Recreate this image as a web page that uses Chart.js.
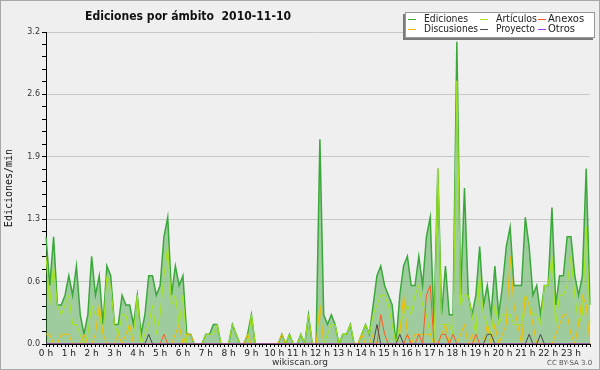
<!DOCTYPE html>
<html>
<head>
<meta charset="utf-8">
<script src="https://cdn.jsdelivr.net/npm/chart.js@4.4.1/dist/chart.umd.min.js"></script>
<style>
  html, body { margin: 0; padding: 0; background: #efefef; }
  #wrap { width: 600px; height: 370px; }
</style>
</head>
<body>
<div id="wrap"><canvas id="chart" width="600" height="370"></canvas></div>
<script>
const chartTitle = 'Ediciones por ámbito  2010-11-10';
const hourLabels = ['0 h', '1 h', '2 h', '3 h', '4 h', '5 h', '6 h', '7 h', '8 h', '9 h', '10 h', '11 h',
                    '12 h', '13 h', '14 h', '15 h', '16 h', '17 h', '18 h', '19 h', '20 h', '21 h', '22 h', '23 h'];
const seriesNames = ['Ediciones', 'Artículos', 'Anexos', 'Discusiones', 'Proyecto', 'Otros'];
const yTickLabels = ['0.0', '0.6', '1.3', '1.9', '2.6', '3.2'];

// one value every 10 minutes, six per hour (edits/min)
const ediciones = [
  1.1, 0.6, 1.1, 0.4, 0.4, 0.5,   0.7, 0.5, 0.8, 0.3, 0.1, 0.3,
  0.9, 0.5, 0.7, 0.2, 0.8, 0.7,   0.2, 0.2, 0.5, 0.4, 0.4, 0.2,
  0.5, 0.1, 0.3, 0.7, 0.7, 0.5,   0.6, 1.1, 1.3, 0.5, 0.8, 0.6,
  0.7, 0.1, 0.1, 0, 0, 0,         0.1, 0.1, 0.2, 0.2, 0, 0,
  0, 0.2, 0.1, 0, 0, 0.1,         0.3, 0, 0, 0, 0, 0,
  0, 0, 0.1, 0, 0.1, 0,           0, 0.1, 0, 0.3, 0, 0,
  2.1, 0.3, 0.2, 0.3, 0.2, 0,     0.1, 0.1, 0.2, 0, 0, 0.1,
  0.2, 0.1, 0.4, 0.7, 0.8, 0.6,   0.5, 0.4, 0, 0.5, 0.8, 0.9,
  0.6, 0.6, 0.9, 0.6, 1.1, 1.3,   0.2, 1.8, 0.3, 0.8, 0.3, 0.3,
  3.1, 0.5, 1.6, 0.5, 0.3, 0.5,   1.0, 0.4, 0.6, 0.3, 0.8, 0.3,
  0.6, 1.0, 1.2, 0.6, 0.6, 0.6,   1.3, 1.0, 0.5, 0.6, 0.3, 0.6,
  0.6, 1.4, 0.4, 0.7, 0.7, 1.1,   1.1, 0.7, 0.5, 0.7, 1.8, 0.4
];
const articulos = [
  0.9, 0.4, 0.8, 0.4, 0.3, 0.4,   0.5, 0.2, 0.2, 0.1, 0, 0.1,
  0.4, 0.3, 0.3, 0.1, 0.7, 0.6,   0.2, 0.1, 0.3, 0.3, 0.1, 0.1,
  0.5, 0, 0.1, 0.2, 0.4, 0.1,     0.3, 0.7, 1.0, 0.4, 0.5, 0.2,
  0.5, 0, 0, 0, 0, 0,             0.1, 0.1, 0.1, 0.2, 0, 0,
  0, 0.2, 0.1, 0, 0, 0,           0.3, 0, 0, 0, 0, 0,
  0, 0, 0, 0, 0.1, 0,             0, 0.1, 0, 0.3, 0, 0,
  0, 0, 0.1, 0.2, 0.2, 0,         0.1, 0.1, 0.2, 0, 0, 0.1,
  0.2, 0.1, 0.3, 0.4, 0.5, 0.5,   0.4, 0.2, 0, 0.2, 0.3, 0.4,
  0.3, 0.5, 0.6, 0.4, 0.3, 0.1,   0, 1.8, 0.2, 0.2, 0.2, 0.1,
  2.7, 0.4, 0.5, 0.5, 0.3, 0.1,   0.7, 0.3, 0.2, 0.1, 0.4, 0.2,
  0.3, 0.3, 0.3, 0.2, 0.2, 0.2,   0.5, 0.4, 0.3, 0.3, 0.2, 0.6,
  0.6, 0.9, 0.2, 0.5, 0.5, 0.6,   0.9, 0.5, 0.2, 0.3, 1.2, 0.2
];
const anexos = [
  0, 0, 0, 0, 0, 0,               0, 0, 0, 0, 0, 0,
  0, 0, 0, 0, 0, 0,               0, 0, 0, 0, 0, 0,
  0, 0, 0, 0, 0, 0,               0, 0.1, 0, 0, 0, 0,
  0, 0, 0, 0, 0, 0,               0, 0, 0, 0, 0, 0,
  0, 0, 0, 0, 0, 0,               0, 0, 0, 0, 0, 0,
  0, 0, 0, 0, 0, 0,               0, 0, 0, 0, 0, 0,
  0, 0, 0, 0, 0, 0,               0, 0, 0, 0, 0, 0,
  0, 0, 0, 0, 0.3, 0.1,           0, 0, 0, 0, 0, 0.1,
  0, 0, 0.1, 0, 0.5, 0.6,         0, 0, 0.1, 0.1, 0, 0.1,
  0, 0, 0, 0, 0, 0.1,             0, 0, 0, 0, 0, 0,
  0, 0, 0, 0, 0, 0,               0, 0, 0, 0, 0, 0,
  0, 0, 0, 0, 0, 0,               0, 0, 0, 0, 0, 0
];
const discusiones = [
  0.1, 0.1, 0, 0, 0.1, 0.1,       0.1, 0, 0, 0, 0.1, 0,
  0, 0.1, 0.4, 0.1, 0, 0,         0, 0.1, 0, 0.1, 0.2, 0,
  0, 0, 0, 0, 0, 0,               0, 0, 0, 0, 0.1, 0.2,
  0, 0.1, 0.1, 0, 0, 0,           0, 0, 0, 0, 0, 0,
  0, 0, 0, 0, 0, 0.1,             0, 0, 0, 0, 0, 0,
  0, 0, 0.1, 0, 0, 0,             0, 0, 0, 0, 0, 0,
  0.4, 0, 0, 0, 0, 0,             0, 0, 0, 0, 0, 0.1,
  0, 0, 0.1, 0, 0, 0,             0, 0, 0, 0.1, 0.5, 0.1,
  0, 0.1, 0.1, 0.1, 0.1, 0.1,     0, 0, 0.1, 0.2, 0, 0,
  0, 0.1, 0.2, 0, 0.1, 0,         0, 0, 0.2, 0, 0.2, 0,
  0.1, 0.2, 0.9, 0.4, 0.2, 0,     0.5, 0.4, 0.2, 0, 0, 0,
  0, 0, 0.1, 0.2, 0.3, 0.3,       0.1, 0, 0.2, 0.5, 0.4, 0
];
const proyecto = [
  0, 0, 0, 0, 0, 0,               0, 0, 0, 0, 0, 0,
  0, 0, 0, 0, 0, 0,               0, 0, 0, 0, 0, 0,
  0, 0, 0, 0.1, 0, 0,             0, 0, 0, 0, 0, 0,
  0, 0, 0, 0, 0, 0,               0, 0, 0, 0, 0, 0,
  0, 0, 0, 0, 0, 0,               0, 0, 0, 0, 0, 0,
  0, 0, 0, 0, 0, 0,               0, 0, 0, 0, 0, 0,
  0, 0, 0, 0, 0, 0,               0, 0, 0, 0, 0, 0,
  0, 0, 0, 0.2, 0, 0,             0, 0, 0, 0.1, 0, 0,
  0, 0, 0, 0, 0, 0,               0, 0, 0, 0, 0, 0,
  0, 0, 0, 0, 0, 0,               0, 0, 0.1, 0.1, 0, 0,
  0, 0, 0, 0, 0, 0,               0, 0.1, 0, 0, 0.1, 0,
  0, 0, 0, 0, 0, 0,               0, 0, 0, 0, 0, 0
];
const otros = [
  0, 0, 0, 0, 0, 0,   0, 0, 0, 0, 0, 0,   0, 0, 0, 0, 0, 0,   0, 0, 0, 0, 0, 0,
  0, 0, 0, 0, 0, 0,   0, 0, 0, 0, 0, 0,   0, 0, 0, 0, 0, 0,   0, 0, 0, 0, 0, 0,
  0, 0, 0, 0, 0, 0,   0, 0, 0, 0, 0, 0,   0, 0, 0, 0, 0, 0,   0, 0, 0, 0, 0, 0,
  0, 0, 0, 0, 0, 0,   0, 0, 0, 0, 0, 0,   0, 0, 0, 0, 0, 0,   0, 0, 0, 0, 0, 0,
  0, 0, 0, 0, 0, 0,   0, 0, 0, 0, 0, 0,   0, 0, 0, 0, 0, 0,   0, 0, 0, 0, 0, 0,
  0, 0, 0, 0, 0, 0,   0, 0, 0, 0, 0, 0,   0, 0, 0, 0, 0, 0,   0, 0, 0, 0, 0, 0
];

const colors = {
  ediciones: '#3aa83a',
  articulos: '#a6e619',
  anexos: '#ff5a1e',
  discusiones: '#f2bf00',
  proyecto: '#4a4a4a',
  otros: '#9a3cf0'
};

// 10-minute slots, label only on the hour
const slotLabels = [];
hourLabels.forEach(h => slotLabels.push(h, '', '', '', '', ''));

function line(label, data, color, order, width) {
  return {
    label: label,
    data: data,
    borderColor: color,
    backgroundColor: color,
    borderWidth: width || 1,
    pointRadius: 0,
    tension: 0,
    fill: false,
    order: order
  };
}

const edicionesSet = line(seriesNames[0], ediciones, colors.ediciones, 10, 1.5);
edicionesSet.fill = 'origin';
edicionesSet.backgroundColor = 'rgba(63, 161, 63, 0.45)';

const datasets = [
  edicionesSet,
  line(seriesNames[1], articulos, colors.articulos, 5),
  line(seriesNames[2], anexos, colors.anexos, 3),
  line(seriesNames[3], discusiones, colors.discusiones, 4),
  line(seriesNames[4], proyecto, colors.proyecto, 2),
  line(seriesNames[5], otros, colors.otros, 1)
];

const decor = {
  id: 'decor',
  beforeDraw(chart) {
    const c = chart.ctx;
    c.save();
    c.fillStyle = '#efefef';
    c.fillRect(0, 0, chart.width, chart.height);
    c.strokeStyle = '#a8a8a8';
    c.lineWidth = 1;
    c.strokeRect(0.5, 0.5, chart.width - 1, chart.height - 1);
    c.restore();
  },
  afterDraw(chart) {
    const c = chart.ctx;
    c.save();
    // title
    c.fillStyle = '#111';
    c.font = 'bold 12px "DejaVu Sans"';
    c.textBaseline = 'alphabetic';
    c.textAlign = 'left';
    c.fillText(chartTitle, 85, 20, 206);

    // legend box with shadow
    c.fillStyle = '#7a7a7a';
    c.fillRect(403, 14, 190, 26);
    c.fillStyle = '#ffffff';
    c.fillRect(405, 12, 190, 26);
    c.strokeStyle = '#9a9a9a';
    c.strokeRect(405.5, 12.5, 189, 25);

    const lineX = [408, 480, 538];
    const textX = [424, 496, 548];
    const rowY = [19.5, 29.5];
    const maxW = [[44, 41, 40], [54, 39, 27]];
    c.font = '10px "DejaVu Sans"';
    c.textBaseline = 'middle';
    chart.data.datasets.forEach((ds, i) => {
      const col = i % 3, row = Math.floor(i / 3);
      c.strokeStyle = ds.borderColor;
      c.lineWidth = 1;
      c.beginPath();
      c.moveTo(lineX[col], rowY[row]);
      c.lineTo(lineX[col] + 8, rowY[row]);
      c.stroke();
      c.fillStyle = '#222';
      c.fillText(ds.label, textX[col], rowY[row] - 0.5, maxW[row][col]);
    });

    // footer
    c.textBaseline = 'alphabetic';
    c.fillStyle = '#333';
    c.font = '9px "DejaVu Sans"';
    c.textAlign = 'center';
    c.fillText('wikiscan.org', 300, 365);
    c.font = '7px "DejaVu Sans"';
    c.fillStyle = '#555';
    c.textAlign = 'left';
    c.fillText('CC BY-SA 3.0', 547, 365);
    c.restore();
  }
};

new Chart(document.getElementById('chart').getContext('2d'), {
  type: 'line',
  data: {
    labels: slotLabels,
    datasets: datasets
  },
  options: {
    responsive: false,
    devicePixelRatio: 1,
    animation: false,
    layout: { padding: { top: 32, right: 10, left: 0, bottom: 0 } },
    plugins: {
      legend: { display: false },
      title: { display: false },
      tooltip: { enabled: false }
    },
    scales: {
      x: {
        z: 1,
        afterFit: function(scale) { scale.height = 26; },
        grid: { display: true, drawOnChartArea: false, drawTicks: true, tickLength: 3, tickColor: '#000' },
        border: { color: '#000', width: 1 },
        ticks: {
          autoSkip: false,
          maxRotation: 0,
          minRotation: 0,
          padding: 1,
          color: '#222',
          font: { family: 'DejaVu Sans', size: 9 }
        }
      },
      y: {
        min: 0,
        max: 3.2,
        afterFit: function(scale) { scale.width = 46; },
        border: { color: '#000', width: 1 },
        grid: {
          tickLength: 4,
          tickColor: '#000',
          color: function(ctx) {
            return (ctx.index % 5 === 0 && ctx.index > 0) ? '#c8c8c8' : 'rgba(0,0,0,0)';
          }
        },
        ticks: {
          count: 26,
          autoSkip: false,
          padding: 2,
          color: '#333',
          font: { family: 'DejaVu Sans', size: 8 },
          callback: function(value, index) {
            return index % 5 === 0 ? yTickLabels[index / 5] : '';
          }
        },
        title: {
          display: true,
          text: 'Ediciones/min',
          color: '#111',
          padding: { top: 3, bottom: 0 },
          font: { family: 'DejaVu Sans Mono', size: 10 }
        }
      }
    }
  },
  plugins: [decor]
});
</script>
</body>
</html>
